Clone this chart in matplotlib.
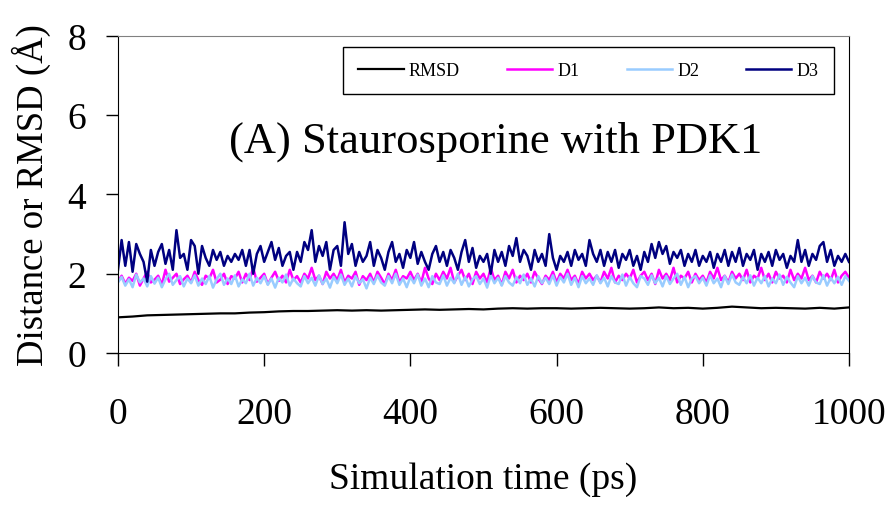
import numpy as np
import matplotlib
matplotlib.use('Agg')
import matplotlib.pyplot as plt

plt.rcParams['font.family'] = ['Liberation Serif', 'DejaVu Serif']

# time axis of the distance series (ps), every 5 ps
time_d = np.arange(0, 1001, 5)

d3 = [2.1, 2.85, 2.2, 2.8, 2.05, 2.75, 2.5, 2.3, 1.8, 2.6,
      2.2, 2.55, 2.75, 2.25, 2.6, 2.1, 3.1, 2.4, 2.5, 2.1,
      2.85, 2.7, 2.0, 2.7, 2.4, 2.2, 2.6, 2.35, 2.55, 2.2,
      2.45, 2.3, 2.5, 2.35, 2.6, 2.2, 2.6, 2.0, 2.5, 2.7,
      2.3, 2.55, 2.8, 2.35, 2.65, 2.2, 2.45, 2.55, 2.1, 2.55,
      2.3, 2.8, 2.6, 3.1, 2.3, 2.7, 2.45, 2.8, 2.1, 2.6,
      2.7, 2.2, 3.3, 2.5, 2.75, 2.2, 2.55, 2.3, 2.45, 2.8,
      2.2, 2.6, 2.4, 2.1, 2.55, 2.8, 2.3, 2.5, 2.15, 2.6,
      2.4, 2.8, 2.25, 2.55, 2.3, 2.1, 2.5, 2.7, 2.3, 2.55,
      2.2, 2.6, 2.4, 2.1, 2.55, 2.85, 2.3, 2.65, 2.15, 2.45,
      2.3, 2.5, 2.0, 2.6, 2.3, 2.55, 2.2, 2.7, 2.45, 2.9,
      2.3, 2.6, 2.45, 2.1, 2.6, 2.3, 2.5, 2.2, 3.0, 2.4,
      2.1, 2.45, 2.3, 2.55, 2.2, 2.6, 2.35, 2.5, 2.2, 2.85,
      2.5, 2.3, 2.6, 2.2, 2.55, 2.3, 2.6, 2.15, 2.5, 2.35,
      2.6, 2.2, 2.45, 2.1, 2.55, 2.3, 2.75, 2.4, 2.8, 2.5,
      2.7, 2.25, 2.55, 2.4, 2.6, 2.2, 2.5, 2.3, 2.6, 2.2,
      2.45, 2.3, 2.55, 2.15, 2.5, 2.3, 2.6, 2.2, 2.55, 2.3,
      2.65, 2.2, 2.5, 2.35, 2.6, 2.1, 2.5, 2.3, 2.55, 2.2,
      2.6, 2.35, 2.5, 2.15, 2.45, 2.3, 2.85, 2.3, 2.6, 2.2,
      2.5, 2.35, 2.7, 2.8, 2.3, 2.6, 2.2, 2.45, 2.3, 2.5,
      2.3]

d1 = [1.8, 1.95, 1.75, 1.9, 1.82, 2.0, 1.7, 1.88, 2.05, 1.78,
      1.85, 1.95, 1.72, 2.1, 1.8, 1.9, 2.0, 1.74, 1.86, 1.95,
      1.78, 2.05, 1.84, 1.72, 1.95, 1.88, 2.1, 1.78, 1.85, 2.0,
      1.74, 1.94, 1.88, 2.05, 1.78, 2.0, 1.84, 2.15, 1.8, 1.9,
      2.0, 1.74, 1.9, 2.05, 1.82, 1.95, 1.78, 2.1, 1.84, 1.94,
      1.78, 2.0, 1.88, 2.15, 1.84, 1.95, 1.74, 2.05, 1.88, 2.0,
      1.84, 2.1, 1.78, 1.95, 1.88, 2.05, 1.72, 1.94, 1.84, 2.0,
      1.78, 2.05, 1.9, 1.74, 2.0, 1.84, 2.1, 1.78, 1.94, 1.88,
      2.05, 1.84, 2.0, 1.78, 2.15, 1.88, 1.74, 2.0, 1.84, 2.05,
      1.88, 2.15, 1.78, 1.95, 2.1, 1.84, 2.0, 1.74, 2.05, 1.88,
      2.0, 1.78, 2.15, 1.84, 1.95, 1.72, 2.05, 1.88, 2.1, 1.78,
      1.95, 1.84, 2.0, 1.78, 2.05, 1.88, 1.74, 1.95, 1.84, 2.05,
      1.78, 2.0, 1.88, 2.1, 1.84, 1.95, 1.74, 2.05, 1.88, 2.0,
      1.84, 1.95, 1.78, 2.05, 1.88, 2.15, 1.78, 1.95, 1.84, 2.0,
      1.88, 2.1, 1.78, 1.95, 2.05, 1.84, 2.0, 1.74, 2.1, 1.88,
      2.0, 1.84, 2.15, 1.78, 1.95, 1.88, 2.05, 1.78, 2.0, 1.84,
      1.95, 1.78, 2.05, 1.88, 2.15, 1.84, 1.95, 1.78, 2.05, 1.88,
      2.0, 1.84, 2.1, 1.78, 1.95, 1.88, 2.15, 1.84, 2.0, 1.78,
      2.05, 1.88, 1.95, 1.78, 2.1, 1.84, 2.0, 1.88, 2.15, 1.84,
      1.95, 1.78, 2.05, 1.88, 2.0, 1.84, 2.1, 1.78, 1.95, 2.05,
      1.9]

d2 = [1.78, 1.92, 1.7, 1.86, 1.66, 1.98, 1.78, 1.88, 1.68, 1.94,
      1.75, 1.9, 1.66, 1.86, 2.0, 1.72, 1.84, 1.94, 1.68, 1.88,
      1.76, 1.96, 1.7, 1.88, 1.74, 1.94, 1.65, 1.86, 2.0, 1.72,
      1.88, 1.74, 1.96, 1.68, 1.86, 1.76, 2.0, 1.7, 1.9, 1.76,
      1.94, 1.72, 1.88, 1.65, 1.9, 1.78, 1.98, 1.7, 1.88, 1.76,
      1.68, 1.94, 1.76, 1.9, 1.7, 1.96, 1.74, 1.88, 1.65, 1.92,
      1.76, 1.98, 1.72, 1.88, 1.68, 1.94, 1.76, 1.86, 1.63, 1.9,
      1.74, 1.96, 1.78, 1.7, 1.94, 1.76, 2.0, 1.72, 1.88, 1.66,
      1.92, 1.76, 1.98, 1.7, 1.88, 1.66, 1.94, 1.78, 1.74, 1.96,
      1.7, 1.9, 1.76, 2.0, 1.72, 1.92, 1.68, 1.86, 1.94, 1.74,
      1.88, 1.65, 1.96, 1.76, 1.9, 1.7, 1.94, 1.78, 1.7, 1.92,
      1.76, 1.98, 1.72, 1.88, 1.68, 1.94, 1.76, 1.9, 1.74, 1.96,
      1.7, 1.92, 1.78, 2.0, 1.72, 1.9, 1.66, 1.94, 1.76, 1.88,
      1.72, 1.96, 1.76, 1.9, 1.68, 1.94, 1.78, 1.74, 1.98, 1.7,
      1.92, 1.76, 1.66, 1.94, 1.88, 1.72, 1.96, 1.76, 1.9, 1.68,
      1.94, 1.74, 1.88, 2.0, 1.72, 1.92, 1.66, 1.88, 1.94, 1.76,
      1.9, 1.7, 1.96, 1.76, 1.88, 1.66, 1.94, 1.74, 1.98, 1.78,
      1.72, 1.92, 1.76, 1.96, 1.7, 1.9, 1.76, 1.94, 1.68, 1.88,
      1.76, 1.98, 1.72, 1.92, 1.78, 1.66, 1.94, 1.76, 1.9, 1.7,
      1.94, 1.78, 1.74, 1.96, 1.7, 1.9, 1.76, 1.92, 1.72, 1.94,
      1.82]

# RMSD every 20 ps
time_rmsd = np.arange(0, 1001, 20)
rmsd = [0.9, 0.92, 0.95, 0.96, 0.97, 0.98, 0.99, 1.0, 1.0, 1.02,
        1.03, 1.05, 1.06, 1.06, 1.07, 1.08, 1.07, 1.08, 1.07, 1.08,
        1.09, 1.1, 1.09, 1.1, 1.11, 1.1, 1.12, 1.13, 1.12, 1.13,
        1.13, 1.12, 1.13, 1.14, 1.13, 1.12, 1.13, 1.15, 1.13, 1.14,
        1.12, 1.14, 1.17, 1.15, 1.13, 1.14, 1.13, 1.12, 1.14, 1.12,
        1.15]

fig = plt.figure(figsize=(8.93, 5.06), dpi=100)
ax = fig.add_axes([0.1321, 0.3004, 0.8186, 0.6265])

ax.plot(time_rmsd, rmsd, color='black', lw=1.6, label='RMSD')
ax.plot(time_d, d1, color='#FF00FF', lw=1.8, label='D1')
ax.plot(time_d, d2, color='#99CCFF', lw=1.8, label='D2')
ax.plot(time_d, d3, color='#000080', lw=1.8, label='D3')

ax.set_xlim(0, 1000)
ax.set_ylim(0, 8)
ax.set_xticks(range(0, 1001, 200))
ax.set_yticks(range(0, 9, 2))
ax.tick_params(axis='x', direction='out', length=9, width=1, labelsize=27, pad=22)
ax.tick_params(axis='y', direction='out', length=9, width=1, labelsize=27, pad=14)
ax.spines['top'].set_color('#808080')

ax.set_xlabel('Simulation time (ps)', fontsize=27, labelpad=22)
ax.set_ylabel('Distance or RMSD (Å)', fontsize=26.5, labelpad=12)

ax.text(0.517, 0.669, '(A) Staurosporine with PDK1', transform=ax.transAxes,
        ha='center', va='center', fontsize=32)

leg = ax.legend(ncol=4, loc='upper right', bbox_to_anchor=(0.992, 0.995),
                fontsize=13, handlelength=2.5, columnspacing=2.6,
                handletextpad=0.3, fancybox=False, framealpha=1,
                edgecolor='black', borderpad=0.85)
leg.get_frame().set_linewidth(1)

fig.savefig('out.png', dpi=100)
